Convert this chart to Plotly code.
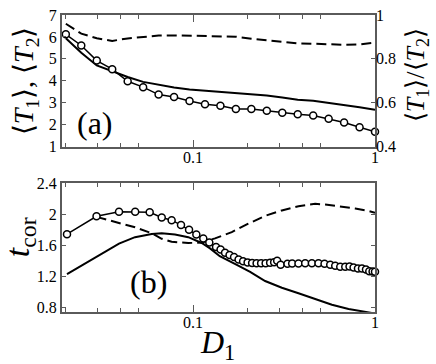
import plotly.graph_objects as go

# panel (a): <T1>, <T2> and their ratio vs D1
d_a = [0.02, 0.02432, 0.02958, 0.03597, 0.04374, 0.05319, 0.06469, 0.07867, 0.09567, 0.11634,
       0.14142, 0.17198, 0.20915, 0.25435, 0.30932, 0.37616, 0.45745, 0.55631, 0.67654, 0.82275, 1.0]
t1_a = [6.12, 5.61, 4.92, 4.53, 3.98, 3.71, 3.37, 3.26, 3.08, 2.93, 2.86,
        2.71, 2.71, 2.63, 2.54, 2.47, 2.42, 2.27, 2.10, 1.88, 1.68]
t2_a = [5.94, 5.28, 4.70, 4.44, 4.17, 3.95, 3.81, 3.69, 3.60, 3.55, 3.51,
        3.46, 3.41, 3.33, 3.24, 3.14, 3.09, 3.00, 2.90, 2.79, 2.68]
ratio_a = [0.96, 0.915, 0.894, 0.882, 0.893, 0.901, 0.906, 0.907, 0.906, 0.906, 0.904,
           0.901, 0.892, 0.884, 0.877, 0.871, 0.869, 0.866, 0.864, 0.866, 0.874]

# panel (b): correlation times
d_circ = [0.0203, 0.0295, 0.0392, 0.0481, 0.0578, 0.0673, 0.0763, 0.0859, 0.0951, 0.1043,
          0.1139, 0.1229, 0.1338, 0.1417, 0.1500, 0.1588, 0.1681, 0.1780, 0.1884, 0.1995,
          0.2112, 0.2236, 0.2367, 0.2506, 0.2653, 0.2791, 0.2900, 0.3030, 0.3304, 0.3506,
          0.3798, 0.4134, 0.4499, 0.4893, 0.5280, 0.5675, 0.6045, 0.6442, 0.6864, 0.7246,
          0.7626, 0.8061, 0.8482, 0.8923, 0.9302, 0.9700, 1.0]
t_circ = [1.743, 1.974, 2.034, 2.034, 2.025, 1.958, 1.924, 1.861, 1.80, 1.74,
          1.689, 1.635, 1.579, 1.545, 1.505, 1.476, 1.448, 1.418, 1.395, 1.380,
          1.372, 1.368, 1.368, 1.368, 1.374, 1.382, 1.402, 1.350, 1.361, 1.364,
          1.364, 1.368, 1.368, 1.368, 1.361, 1.348, 1.335, 1.323, 1.323, 1.327,
          1.314, 1.301, 1.301, 1.289, 1.267, 1.263, 1.26]

d_solid = [0.0203, 0.02655, 0.0328, 0.0392, 0.048, 0.0593, 0.0673, 0.0796, 0.0942, 0.1116,
           0.124, 0.1403, 0.174, 0.206, 0.249, 0.3077, 0.3798, 0.469, 0.5798, 0.7157, 0.848, 1.0]
t_solid = [1.229, 1.39, 1.516, 1.621, 1.705, 1.747, 1.756, 1.739, 1.705, 1.63,
           1.56, 1.46, 1.348, 1.258, 1.14, 1.053, 0.982, 0.906, 0.834, 0.780, 0.749, 0.72]

d_dash = [0.0295, 0.0372, 0.048, 0.0593, 0.0673, 0.0763, 0.0942, 0.1116, 0.1321, 0.1633,
          0.1987, 0.249, 0.3077, 0.3798, 0.469, 0.5328, 0.6583, 0.779, 0.922, 1.0]
t_dash = [1.967, 1.904, 1.832, 1.756, 1.684, 1.645, 1.63, 1.635, 1.69, 1.77,
          1.873, 1.98, 2.05, 2.105, 2.135, 2.126, 2.097, 2.075, 2.042, 2.02]

FONT = "Liberation Serif, Times New Roman, serif"
FRAME = "#5a5a5a"

circ = dict(symbol="circle", size=7, color="white", line=dict(color="black", width=1.5))
dash = "10px,5px"

fig = go.Figure()
fig.add_trace(go.Scatter(x=d_a, y=t2_a, mode="lines", line=dict(color="black", width=2),
                         xaxis="x", yaxis="y"))
fig.add_trace(go.Scatter(x=d_a, y=t1_a, mode="lines+markers", line=dict(color="black", width=1.5),
                         marker=circ, cliponaxis=False, xaxis="x", yaxis="y"))
fig.add_trace(go.Scatter(x=d_a, y=ratio_a, mode="lines", line=dict(color="black", width=2, dash=dash),
                         xaxis="x", yaxis="y2"))

fig.add_trace(go.Scatter(x=d_solid, y=t_solid, mode="lines", line=dict(color="black", width=2),
                         xaxis="x2", yaxis="y3"))
fig.add_trace(go.Scatter(x=d_dash, y=t_dash, mode="lines", line=dict(color="black", width=2, dash=dash),
                         xaxis="x2", yaxis="y3"))
fig.add_trace(go.Scatter(x=d_circ, y=t_circ, mode="lines+markers", line=dict(color="black", width=1.5),
                         marker=circ, cliponaxis=False, xaxis="x2", yaxis="y3"))

xcommon = dict(type="log", range=[-1.72, 0], showline=True, mirror="ticks", linecolor=FRAME, linewidth=2,
               ticks="inside", ticklen=7, tickwidth=1.2, tickcolor=FRAME, ticklabelstandoff=-5,
               tickmode="array", tickvals=[0.1, 1], ticktext=["0.1", "1"],
               minor=dict(tickmode="array", tickvals=[0.02, 0.03, 0.04, 0.05, 0.2, 0.3, 0.4, 0.5],
                          ticks="inside", ticklen=4, tickwidth=1.2, tickcolor=FRAME, showgrid=False),
               showgrid=False, zeroline=False, tickfont=dict(family=FONT, size=16, color="black"))

ycommon = dict(showline=True, linecolor=FRAME, linewidth=2, ticks="inside", ticklen=4, tickwidth=1.2,
               tickcolor=FRAME, showgrid=False, zeroline=False,
               tickfont=dict(family=FONT, size=16, color="black"))

fig.update_layout(
    width=436, height=364,
    margin=dict(l=62, r=61, t=7, b=52),
    paper_bgcolor="white", plot_bgcolor="white",
    showlegend=False,
    xaxis=dict(xcommon, anchor="y"),
    xaxis2=dict(xcommon, anchor="y3"),
    yaxis=dict(ycommon, domain=[0.557, 1.0], range=[1, 7], mirror=True,
               tickmode="array", tickvals=[1, 2, 3, 4, 5, 6, 7]),
    yaxis2=dict(ycommon, overlaying="y", side="right", anchor="x", range=[0.4, 1.0], showline=False,
                tickmode="array", tickvals=[0.4, 0.6, 0.8, 1.0], ticktext=["0.4", "0.6", "0.8", "1"]),
    yaxis3=dict(ycommon, domain=[0.0, 0.436], range=[0.74, 2.41], mirror="ticks",
                tickmode="array", tickvals=[0.8, 1.2, 1.6, 2.0, 2.4],
                ticktext=["0.8", "1.2", "1.6", "2", "2.4"]),
)

ann = dict(xref="paper", yref="paper", showarrow=False, xanchor="center", yanchor="middle",
           font=dict(family=FONT, color="black"))
fig.add_annotation(ann, x=0.105, y=0.636, text="(a)", font_size=32)
fig.add_annotation(ann, x=0.275, y=0.102, text="(b)", font_size=32)
fig.add_annotation(ann, x=-0.118, y=0.777, textangle=-90, font_size=28,
                   text="⟨<i>T</i><sub>1</sub>⟩, ⟨<i>T</i><sub>2</sub>⟩")
fig.add_annotation(ann, x=1.134, y=0.797, textangle=-90, font_size=26,
                   text="⟨<i>T</i><sub>1</sub>⟩/⟨<i>T</i><sub>2</sub>⟩")
fig.add_annotation(ann, x=-0.134, y=0.252, textangle=-90, font_size=34,
                   text="<i>t</i><sub>cor</sub>")
fig.add_annotation(ann, x=0.498, y=-0.108, font_size=32,
                   text="<i>D</i><sub>1</sub>")

# page body has a default 8px margin; drop it so the figure fills the window
fig.write_html("out.html", config={"displayModeBar": False},
               post_script="document.body.style.margin='0';")
